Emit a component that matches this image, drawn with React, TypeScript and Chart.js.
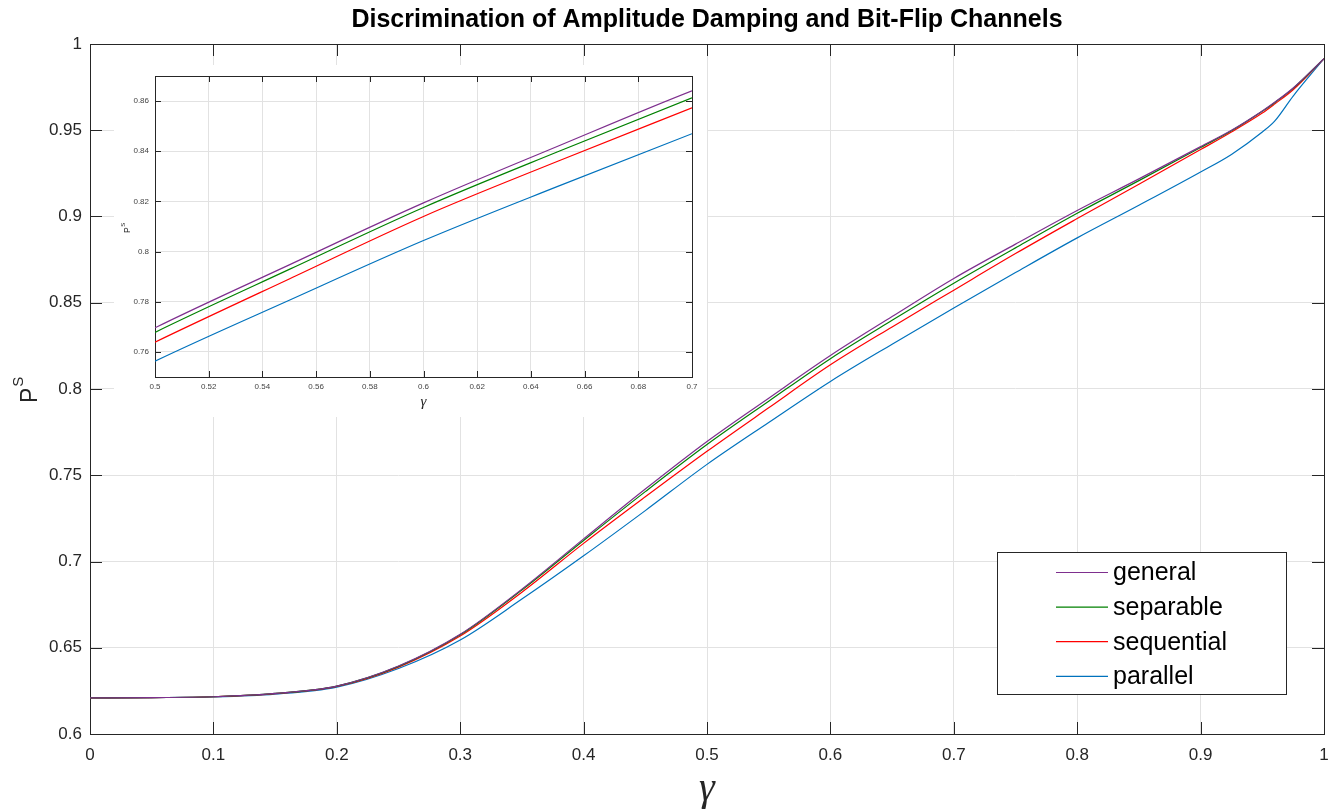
import React, { useEffect, useRef } from 'react';
import { Chart, registerables } from 'chart.js';

Chart.register(...registerables);

// ---------------- data ----------------
const gammaValues = [0, 0.05, 0.1, 0.15, 0.2, 0.25, 0.3, 0.35, 0.4, 0.45, 0.5, 0.55, 0.6, 0.65, 0.7, 0.75, 0.8, 0.85, 0.9, 0.925, 0.95, 0.96, 0.975, 1];
const generalValues = [0.6209, 0.6211, 0.6216, 0.6235, 0.6278, 0.6394, 0.6578, 0.684, 0.7131, 0.742, 0.7696, 0.7947, 0.8194, 0.842, 0.8641, 0.884, 0.9035, 0.9218, 0.9405, 0.95, 0.9612, 0.9662, 0.9745, 0.9915];
const separableValues = [0.6209, 0.6211, 0.6216, 0.6235, 0.6278, 0.6392, 0.6575, 0.6835, 0.7122, 0.7405, 0.7678, 0.7929, 0.8176, 0.8398, 0.8613, 0.8818, 0.9019, 0.9208, 0.94, 0.9497, 0.961, 0.966, 0.9743, 0.9915];
const sequentialValues = [0.6209, 0.6211, 0.6216, 0.6234, 0.6276, 0.6388, 0.6568, 0.6822, 0.7105, 0.7375, 0.7639, 0.7891, 0.814, 0.836, 0.8573, 0.8785, 0.8988, 0.9187, 0.9388, 0.949, 0.96, 0.9652, 0.9735, 0.9915];
const parallelValues = [0.6209, 0.6211, 0.6215, 0.6231, 0.6272, 0.638, 0.6545, 0.6782, 0.7033, 0.7295, 0.7563, 0.7806, 0.8044, 0.826, 0.847, 0.8675, 0.8876, 0.9065, 0.9258, 0.936, 0.949, 0.9553, 0.9698, 0.9915];

const seriesNames = ['general', 'separable', 'sequential', 'parallel'];
const seriesValues = [generalValues, separableValues, sequentialValues, parallelValues];

const mainXTicks = [0, 0.1, 0.2, 0.3, 0.4, 0.5, 0.6, 0.7, 0.8, 0.9, 1];
const mainYTicks = [0.6, 0.65, 0.7, 0.75, 0.8, 0.85, 0.9, 0.95, 1];
const insetXTicks = [0.5, 0.52, 0.54, 0.56, 0.58, 0.6, 0.62, 0.64, 0.66, 0.68, 0.7];
const insetYTicks = [0.76, 0.78, 0.8, 0.82, 0.84, 0.86];

const titleText = 'Discrimination of Amplitude Damping and Bit-Flip Channels';
const xTitleText = 'γ';
const yTitleBase = 'P';
const yTitleSup = 'S';

// ---------------- styles ----------------
const seriesColors = ['#7E2F8E', '#008000', '#FF0000', '#0072BD'];
const axisColor = '#262626';
const gridColor = '#e2e2e2';
const sans = '"Liberation Sans", Arial, Helvetica, sans-serif';
const serif = '"Liberation Serif", "Times New Roman", serif';

const fmt = (v: number) => String(parseFloat(Number(v).toFixed(4)));

const buildDatasets = () =>
  seriesNames.map((name, i) => ({
    label: name,
    data: gammaValues.map((g, k) => ({ x: g, y: seriesValues[i][k] })),
    borderColor: seriesColors[i],
    backgroundColor: seriesColors[i],
    borderWidth: 1.2,
    pointRadius: 0,
    fill: false,
    cubicInterpolationMode: 'monotone' as const,
  }));

// box + inward ticks on all sides
const axesBoxPlugin = {
  id: 'axesBox',
  beforeDatasetsDraw(chart: any, _args: any, opts: any) {
    const { ctx, chartArea: a, scales } = chart;
    const L = opts.tickLen;
    ctx.save();
    ctx.strokeStyle = opts.color;
    ctx.lineWidth = 1;
    ctx.beginPath();
    opts.xTicks.forEach((v: number) => {
      const px = Math.round(scales.x.getPixelForValue(v)) + 0.5;
      ctx.moveTo(px, a.bottom);
      ctx.lineTo(px, a.bottom - L);
      ctx.moveTo(px, a.top);
      ctx.lineTo(px, a.top + L);
    });
    opts.yTicks.forEach((v: number) => {
      const py = Math.round(scales.y.getPixelForValue(v)) + 0.5;
      ctx.moveTo(a.left, py);
      ctx.lineTo(a.left + L, py);
      ctx.moveTo(a.right, py);
      ctx.lineTo(a.right - L, py);
    });
    ctx.stroke();
    ctx.strokeRect(
      Math.round(a.left) + 0.5,
      Math.round(a.top) + 0.5,
      Math.round(a.right) - Math.round(a.left),
      Math.round(a.bottom) - Math.round(a.top)
    );
    ctx.restore();
  },
};

// axis titles (with superscript) and legend
const overlayPlugin = {
  id: 'overlay',
  afterDraw(chart: any, _args: any, opts: any) {
    const ctx = chart.ctx;
    if (opts.yTitle) {
      const t = opts.yTitle;
      ctx.save();
      ctx.translate(t.x, t.y);
      ctx.rotate(-Math.PI / 2);
      ctx.fillStyle = t.color;
      ctx.textAlign = 'left';
      ctx.textBaseline = 'alphabetic';
      ctx.font = `${t.size}px ${sans}`;
      ctx.fillText(yTitleBase, 0, 0);
      const w = ctx.measureText(yTitleBase).width;
      ctx.font = `${t.supSize}px ${sans}`;
      ctx.fillText(yTitleSup, w + t.supGap, -t.supRise);
      ctx.restore();
    }
    if (opts.xTitle) {
      const t = opts.xTitle;
      ctx.save();
      ctx.fillStyle = t.color;
      ctx.textAlign = 'center';
      ctx.textBaseline = 'alphabetic';
      ctx.font = `italic ${t.size}px ${serif}`;
      ctx.fillText(xTitleText, t.x, t.y);
      ctx.restore();
    }
    if (opts.legend) {
      const L = opts.legend;
      ctx.save();
      ctx.fillStyle = '#ffffff';
      ctx.fillRect(L.left, L.top, L.width, L.height);
      ctx.strokeStyle = axisColor;
      ctx.lineWidth = 1;
      ctx.strokeRect(L.left + 0.5, L.top + 0.5, L.width, L.height);
      ctx.font = `${L.fontSize}px ${sans}`;
      ctx.textAlign = 'left';
      ctx.textBaseline = 'middle';
      chart.data.datasets.forEach((ds: any, i: number) => {
        const y = L.firstRow + i * L.rowGap;
        ctx.strokeStyle = ds.borderColor;
        ctx.lineWidth = 1.2;
        ctx.beginPath();
        ctx.moveTo(L.lineX1, y + 0.5);
        ctx.lineTo(L.lineX2, y + 0.5);
        ctx.stroke();
        ctx.fillStyle = '#000000';
        ctx.fillText(ds.label, L.textX, y + 1.5);
      });
      ctx.restore();
    }
  },
};

const makeScales = (
  xMin: number, xMax: number, yMin: number, yMax: number,
  xTicks: number[], yTicks: number[],
  yWidth: number, xHeight: number,
  fontSize: number, tickColor: string, xPad: number, yPad: number
) => ({
  x: {
    type: 'linear' as const,
    min: xMin,
    max: xMax,
    afterBuildTicks: (s: any) => { s.ticks = xTicks.map((v) => ({ value: v })); },
    afterFit: (s: any) => {
      s.height = xHeight;
      s.paddingLeft = 0;
      s.paddingRight = 0;
    },
    grid: { color: gridColor, lineWidth: 1, drawTicks: false },
    border: { display: false },
    ticks: {
      color: tickColor,
      font: { family: sans, size: fontSize },
      padding: xPad,
      maxRotation: 0,
      autoSkip: false,
      callback: (v: any) => fmt(v),
    },
  },
  y: {
    type: 'linear' as const,
    min: yMin,
    max: yMax,
    afterBuildTicks: (s: any) => { s.ticks = yTicks.map((v) => ({ value: v })); },
    afterFit: (s: any) => {
      s.width = yWidth;
      s.paddingTop = 0;
      s.paddingBottom = 0;
    },
    grid: { color: gridColor, lineWidth: 1, drawTicks: false },
    border: { display: false },
    ticks: {
      color: tickColor,
      font: { family: sans, size: fontSize },
      padding: yPad,
      autoSkip: false,
      callback: (v: any) => fmt(v),
    },
  },
});

export default function App() {
  const mainRef = useRef<HTMLCanvasElement>(null);
  const insetRef = useRef<HTMLCanvasElement>(null);

  useEffect(() => {
    const main = new Chart(mainRef.current as HTMLCanvasElement, {
      type: 'line',
      data: { datasets: buildDatasets() },
      plugins: [axesBoxPlugin, overlayPlugin],
      options: {
        animation: false,
        responsive: false,
        devicePixelRatio: 1,
        events: [],
        layout: { autoPadding: false, padding: { left: 0, right: 10, top: 0, bottom: 0 } },
        plugins: {
          legend: { display: false },
          tooltip: { enabled: false },
          title: {
            display: true,
            text: titleText,
            fullSize: false,
            color: '#000000',
            font: { family: sans, size: 25, weight: 'bold' },
            padding: { top: 5, bottom: 9 },
          },
          axesBox: { xTicks: mainXTicks, yTicks: mainYTicks, tickLen: 12, color: axisColor },
          overlay: {
            yTitle: { x: 37, y: 403, size: 23, supSize: 15, supGap: 1, supRise: 14, color: axisColor },
            xTitle: { x: 707, y: 800, size: 40, color: axisColor },
            legend: {
              left: 997, top: 552, width: 289, height: 142,
              firstRow: 572, rowGap: 34.6,
              lineX1: 1056, lineX2: 1108, textX: 1113, fontSize: 25,
            },
          },
        } as any,
        scales: makeScales(0, 1, 0.6, 1, mainXTicks, mainYTicks, 90, 78, 17, axisColor, 11, 8) as any,
      },
    });

    const inset = new Chart(insetRef.current as HTMLCanvasElement, {
      type: 'line',
      data: { datasets: buildDatasets() },
      plugins: [axesBoxPlugin, overlayPlugin],
      options: {
        animation: false,
        responsive: false,
        devicePixelRatio: 1,
        events: [],
        layout: { autoPadding: false, padding: { left: 0, right: 15, top: 11, bottom: 0 } },
        plugins: {
          legend: { display: false },
          tooltip: { enabled: false },
          title: { display: false },
          axesBox: { xTicks: insetXTicks, yTicks: insetYTicks, tickLen: 6, color: axisColor },
          overlay: {
            yTitle: { x: 15.5, y: 168, size: 8.5, supSize: 6, supGap: 0.5, supRise: 5, color: axisColor },
            xTitle: { x: 309.5, y: 341, size: 15, color: axisColor },
          },
        } as any,
        scales: makeScales(0.5, 0.7, 0.75, 0.87, insetXTicks, insetYTicks, 41, 40, 8, '#444444', 5, 6) as any,
      },
    });

    return () => {
      main.destroy();
      inset.destroy();
    };
  }, []);

  return (
    <div style={{ position: 'fixed', left: 0, top: 0, width: 1334, height: 812, background: '#ffffff' }}>
      <canvas
        ref={mainRef}
        width={1334}
        height={812}
        style={{ position: 'absolute', left: 0, top: 0, width: 1334, height: 812 }}
      />
      <canvas
        ref={insetRef}
        width={593}
        height={352}
        style={{ position: 'absolute', left: 114, top: 65, width: 593, height: 352, background: '#ffffff' }}
      />
    </div>
  );
}
